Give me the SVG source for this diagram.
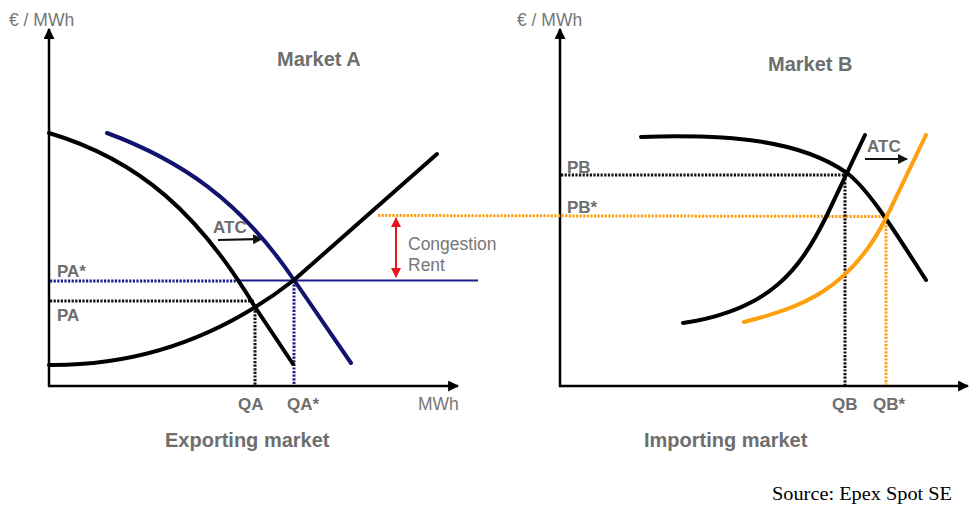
<svg xmlns="http://www.w3.org/2000/svg" width="979" height="510" viewBox="0 0 979 510">
<defs>
<style>
.axis{stroke:#000;stroke-width:2.5;fill:none}
.curve{fill:none;stroke-width:4;stroke-linecap:round;stroke-linejoin:round}
.dot{fill:none;stroke-width:3;stroke-dasharray:2.2 1.4}
.lbl{font-family:"Liberation Sans",Arial,sans-serif;font-weight:bold;font-size:17px;fill:#6e6e6e}
.ttl{font-family:"Liberation Sans",Arial,sans-serif;font-weight:bold;font-size:20px;fill:#6e6e6e}
.reg{font-family:"Liberation Sans",Arial,sans-serif;font-size:17.5px;fill:#777}
</style>
<marker id="ah" viewBox="0 0 10 10" refX="9" refY="5" markerWidth="4.4" markerHeight="4.4" orient="auto-start-reverse" markerUnits="strokeWidth">
<path d="M0,0 L10,5 L0,10 z" fill="#000"/>
</marker>
<marker id="ahr" viewBox="0 0 10 10" refX="9" refY="5" markerWidth="5" markerHeight="5" orient="auto-start-reverse" markerUnits="strokeWidth">
<path d="M0,0 L10,5 L0,10 z" fill="#e8141b"/>
</marker>
<marker id="ahs" viewBox="0 0 10 10" refX="9" refY="5" markerWidth="4.5" markerHeight="4.5" orient="auto" markerUnits="strokeWidth">
<path d="M0,0 L10,5 L0,10 z" fill="#111"/>
</marker>
</defs>
<rect width="979" height="510" fill="#fff"/>

<g id="axes-a">
<line class="axis" x1="49" y1="387" x2="49" y2="29" marker-end="url(#ah)"/>
<line class="axis" x1="48" y1="386" x2="458" y2="386" marker-end="url(#ah)"/>
</g>
<g id="axes-b">
<line class="axis" x1="560" y1="387" x2="560" y2="29" marker-end="url(#ah)"/>
<line class="axis" x1="559" y1="386" x2="968" y2="386" marker-end="url(#ah)"/>
</g>

<g id="connectors">
<line class="dot" stroke="#111" x1="50" y1="301" x2="255" y2="301"/>
<line class="dot" stroke="#111" x1="255" y1="307" x2="255" y2="385"/>
<line class="dot" stroke="#1b1b8a" x1="50" y1="281" x2="240" y2="281"/>
<line stroke="#1b1b8a" stroke-width="1.8" x1="240" y1="280.5" x2="478" y2="280.5"/>
<line class="dot" stroke="#1b1b8a" x1="294" y1="281" x2="294" y2="385"/>
<line class="dot" stroke="#ff9e0f" x1="378" y1="215.5" x2="886" y2="216.5"/>
<line class="dot" stroke="#111" x1="561" y1="175" x2="847" y2="175"/>
<line class="dot" stroke="#111" x1="845" y1="175" x2="845" y2="385"/>
<line class="dot" stroke="#ff9e0f" x1="886" y1="218" x2="886" y2="385"/>
<line stroke="#e8141b" stroke-width="2" x1="396" y1="218" x2="396" y2="277" marker-start="url(#ahr)" marker-end="url(#ahr)"/>
<line stroke="#111" stroke-width="2.2" x1="218" y1="240" x2="262" y2="239" marker-end="url(#ahs)"/>
<line stroke="#111" stroke-width="2.2" x1="865" y1="159" x2="907" y2="159" marker-end="url(#ahs)"/>
</g>

<g id="market-a">
<path class="curve" stroke="#000" d="M49,133 C140,160 200,215 255,307 L293,364"/>
<path class="curve" stroke="#12126f" d="M107,133 C180,160 240,200 294,280 L351,363"/>
<path class="curve" stroke="#000" d="M49,365 C150,366 230,330 294,280 L437,154"/>
</g>

<g id="market-b">
<path class="curve" stroke="#000" d="M641,137 C730,134 800,140 847,173 C870,190 900,240 926,280"/>
<path class="curve" stroke="#000" d="M683,323 C770,310 800,270 827,215 L865,135"/>
<path class="curve" stroke="#ff9e0f" d="M744,322 C800,308 850,290 886,218 L926,135"/>
</g>

<g id="labels">
<text class="reg" x="9" y="26">€ / MWh</text>
<text class="reg" x="517" y="26">€ / MWh</text>
<text class="ttl" x="277" y="66">Market A</text>
<text class="ttl" x="768" y="71">Market B</text>
<text class="lbl" x="213" y="233">ATC</text>
<text class="lbl" x="867" y="152">ATC</text>
<text class="lbl" x="57" y="277">PA*</text>
<text class="lbl" x="57" y="321">PA</text>
<text class="lbl" x="238" y="410">QA</text>
<text class="lbl" x="287" y="410">QA*</text>
<text class="reg" x="418" y="410">MWh</text>
<text class="lbl" x="567" y="173">PB</text>
<text class="lbl" x="567" y="213">PB*</text>
<text class="lbl" x="832" y="410">QB</text>
<text class="lbl" x="873" y="410">QB*</text>
<text class="reg" x="408" y="250">Congestion</text>
<text class="reg" x="408" y="271">Rent</text>
<text class="ttl" x="165" y="447">Exporting market</text>
<text class="ttl" x="644" y="447">Importing market</text>
<text x="772" y="500" font-family="'Liberation Serif','Times New Roman',serif" font-size="19" fill="#000" textLength="180" lengthAdjust="spacingAndGlyphs">Source: Epex Spot SE</text>
</g>
</svg>
